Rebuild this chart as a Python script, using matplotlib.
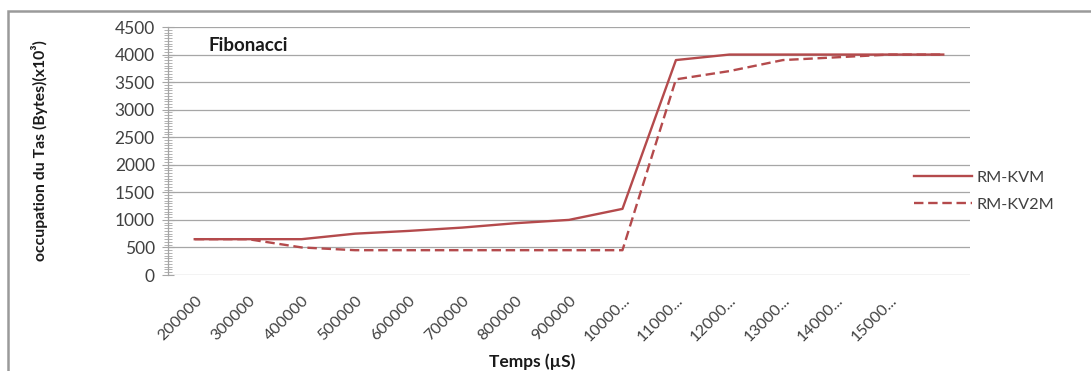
import numpy as np
import matplotlib
matplotlib.use("Agg")
import matplotlib.pyplot as plt
from matplotlib.ticker import MultipleLocator
from matplotlib.patches import Rectangle

plt.rcParams['font.family'] = ['Lato', 'DejaVu Sans']

# categories on the time axis (last one has no visible label)
categories = ["200000", "300000", "400000", "500000", "600000", "700000",
              "800000", "900000", "10000...", "11000...", "12000...",
              "13000...", "14000...", "15000...", ""]

rm_kvm = [650, 650, 650, 750, 800, 860, 940, 1000, 1200, 3900, 4000,
          4000, 4000, 4000, 4000]
rm_kv2m = [650, 650, 500, 450, 450, 450, 450, 450, 450, 3550, 3700,
           3900, 3950, 4000, 4000]

line_color = "#b44a4c"
grid_color = "#a6a6a6"
text_color = "#404040"

fig = plt.figure(figsize=(10.91, 3.71), dpi=100)
ax = fig.add_axes([168 / 1091, 96 / 371, 802 / 1091, 248 / 371])

x = np.arange(len(categories))
ax.plot(x, rm_kvm, color=line_color, lw=1.7, label="RM-KVM", zorder=3)
ax.plot(x, rm_kv2m, color=line_color, lw=1.7, ls=(0, (4, 2)),
        label="RM-KV2M", zorder=3)

ax.set_xlim(-0.5, len(categories) - 0.5)
ax.set_ylim(0, 4500)
ax.yaxis.set_major_locator(MultipleLocator(500))
ax.yaxis.set_minor_locator(MultipleLocator(50))
ax.grid(axis="y", which="major", color=grid_color, lw=0.9, zorder=0)

ax.set_xticks(x)
ax.set_xticklabels(categories, rotation=45, ha="right",
                   rotation_mode="anchor", fontsize=11.5, color=text_color)
ax.tick_params(axis="x", length=0, pad=13)
ax.tick_params(axis="y", which="major", direction="inout", length=9,
               color=grid_color, labelsize=12.5, labelcolor=text_color, pad=5)
ax.tick_params(axis="y", which="minor", direction="inout", length=6,
               color=grid_color, width=0.6)

for side in ["top", "right", "bottom"]:
    ax.spines[side].set_visible(False)
ax.spines["left"].set_color(grid_color)
ax.spines["left"].set_linewidth(0.9)

ax.text(0.05, 0.925, "Fibonacci", transform=ax.transAxes,
        fontsize=13.5, fontweight="bold", color="#1a1a1a", va="center")

fig.text(40 / 1091, 1 - 151 / 371, "occupation du Tas (Bytes)(x10³)",
         rotation=90, ha="center", va="center", fontsize=11.3,
         fontweight="bold", color="#1a1a1a")
fig.text(532 / 1091, 1 - 362 / 371, "Temps (µS)", ha="center", va="center",
         fontsize=12.5, fontweight="bold", color="#1a1a1a")

fig.legend(loc="center left", bbox_to_anchor=(899 / 1091, 1 - 191 / 371),
           frameon=False, handlelength=3.6, handletextpad=0.25,
           labelspacing=0.8, fontsize=11.7, labelcolor=text_color)

# outer chart border
fig.patches.append(Rectangle((8 / 1091, -0.05), 1.1, 1 - 11 / 371 + 0.05,
                             transform=fig.transFigure, fill=False,
                             edgecolor="#9a9a9a", lw=1.8))

fig.savefig("out.png", dpi=100)
